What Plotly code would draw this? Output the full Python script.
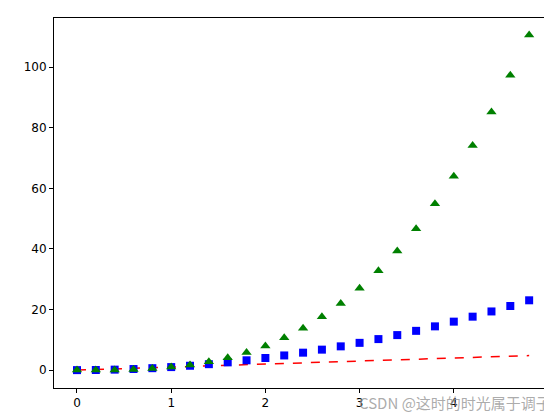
import plotly.graph_objects as go

t = [0.0,0.2,0.4,0.6,0.8,1.0,1.2,1.4,1.6,1.8,2.0,2.2,2.4,2.6,2.8,3.0,3.2,3.4,3.6,3.8,4.0,4.2,4.4,4.6,4.8]
squares = [0,0.04,0.16,0.36,0.64,1,1.44,1.96,2.56,3.24,4,4.84,5.76,6.76,7.84,9,10.24,11.56,12.96,14.44,16,17.64,19.36,21.16,23.04]
cubes = [0,0.008,0.064,0.216,0.512,1,1.728,2.744,4.096,5.832,8,10.648,13.824,17.576,21.952,27,32.768,39.304,46.656,54.872,64,74.088,85.184,97.336,110.592]

fig = go.Figure()
fig.add_trace(go.Scatter(x=t, y=t, mode="lines", line=dict(color="red", dash="dash", width=1.5)))
fig.add_trace(go.Scatter(x=t, y=squares, mode="markers", marker=dict(color="blue", symbol="square", size=8)))
fig.add_trace(go.Scatter(x=t, y=cubes, mode="markers", marker=dict(color="green", symbol="triangle-up", size=9)))

axis = dict(showgrid=False, zeroline=False, showline=True, linecolor="black", mirror=True, automargin=False,
            ticks="outside", ticklen=4, tickcolor="black", tickfont=dict(family="DejaVu Sans", size=12, color="black"))
fig.update_layout(
    width=552, height=413, showlegend=False, plot_bgcolor="white", paper_bgcolor="white",
    margin=dict(l=46, r=4, t=10, b=33),
    xaxis=dict(range=[-0.244, 5.085], tickvals=[0,1,2,3,4,5], **axis),
    yaxis=dict(range=[-5.9, 116.2], tickvals=[0,20,40,60,80,100], **axis),
)
fig.add_annotation(text="CSDN @这时的时光属于调子", xref="paper", yref="paper", x=0.995, y=-0.04,
                   xanchor="right", yanchor="middle", showarrow=False,
                   font=dict(family="Noto Sans CJK SC", size=15, color="rgba(150,150,150,0.8)"))
fig.write_html("out.html")
